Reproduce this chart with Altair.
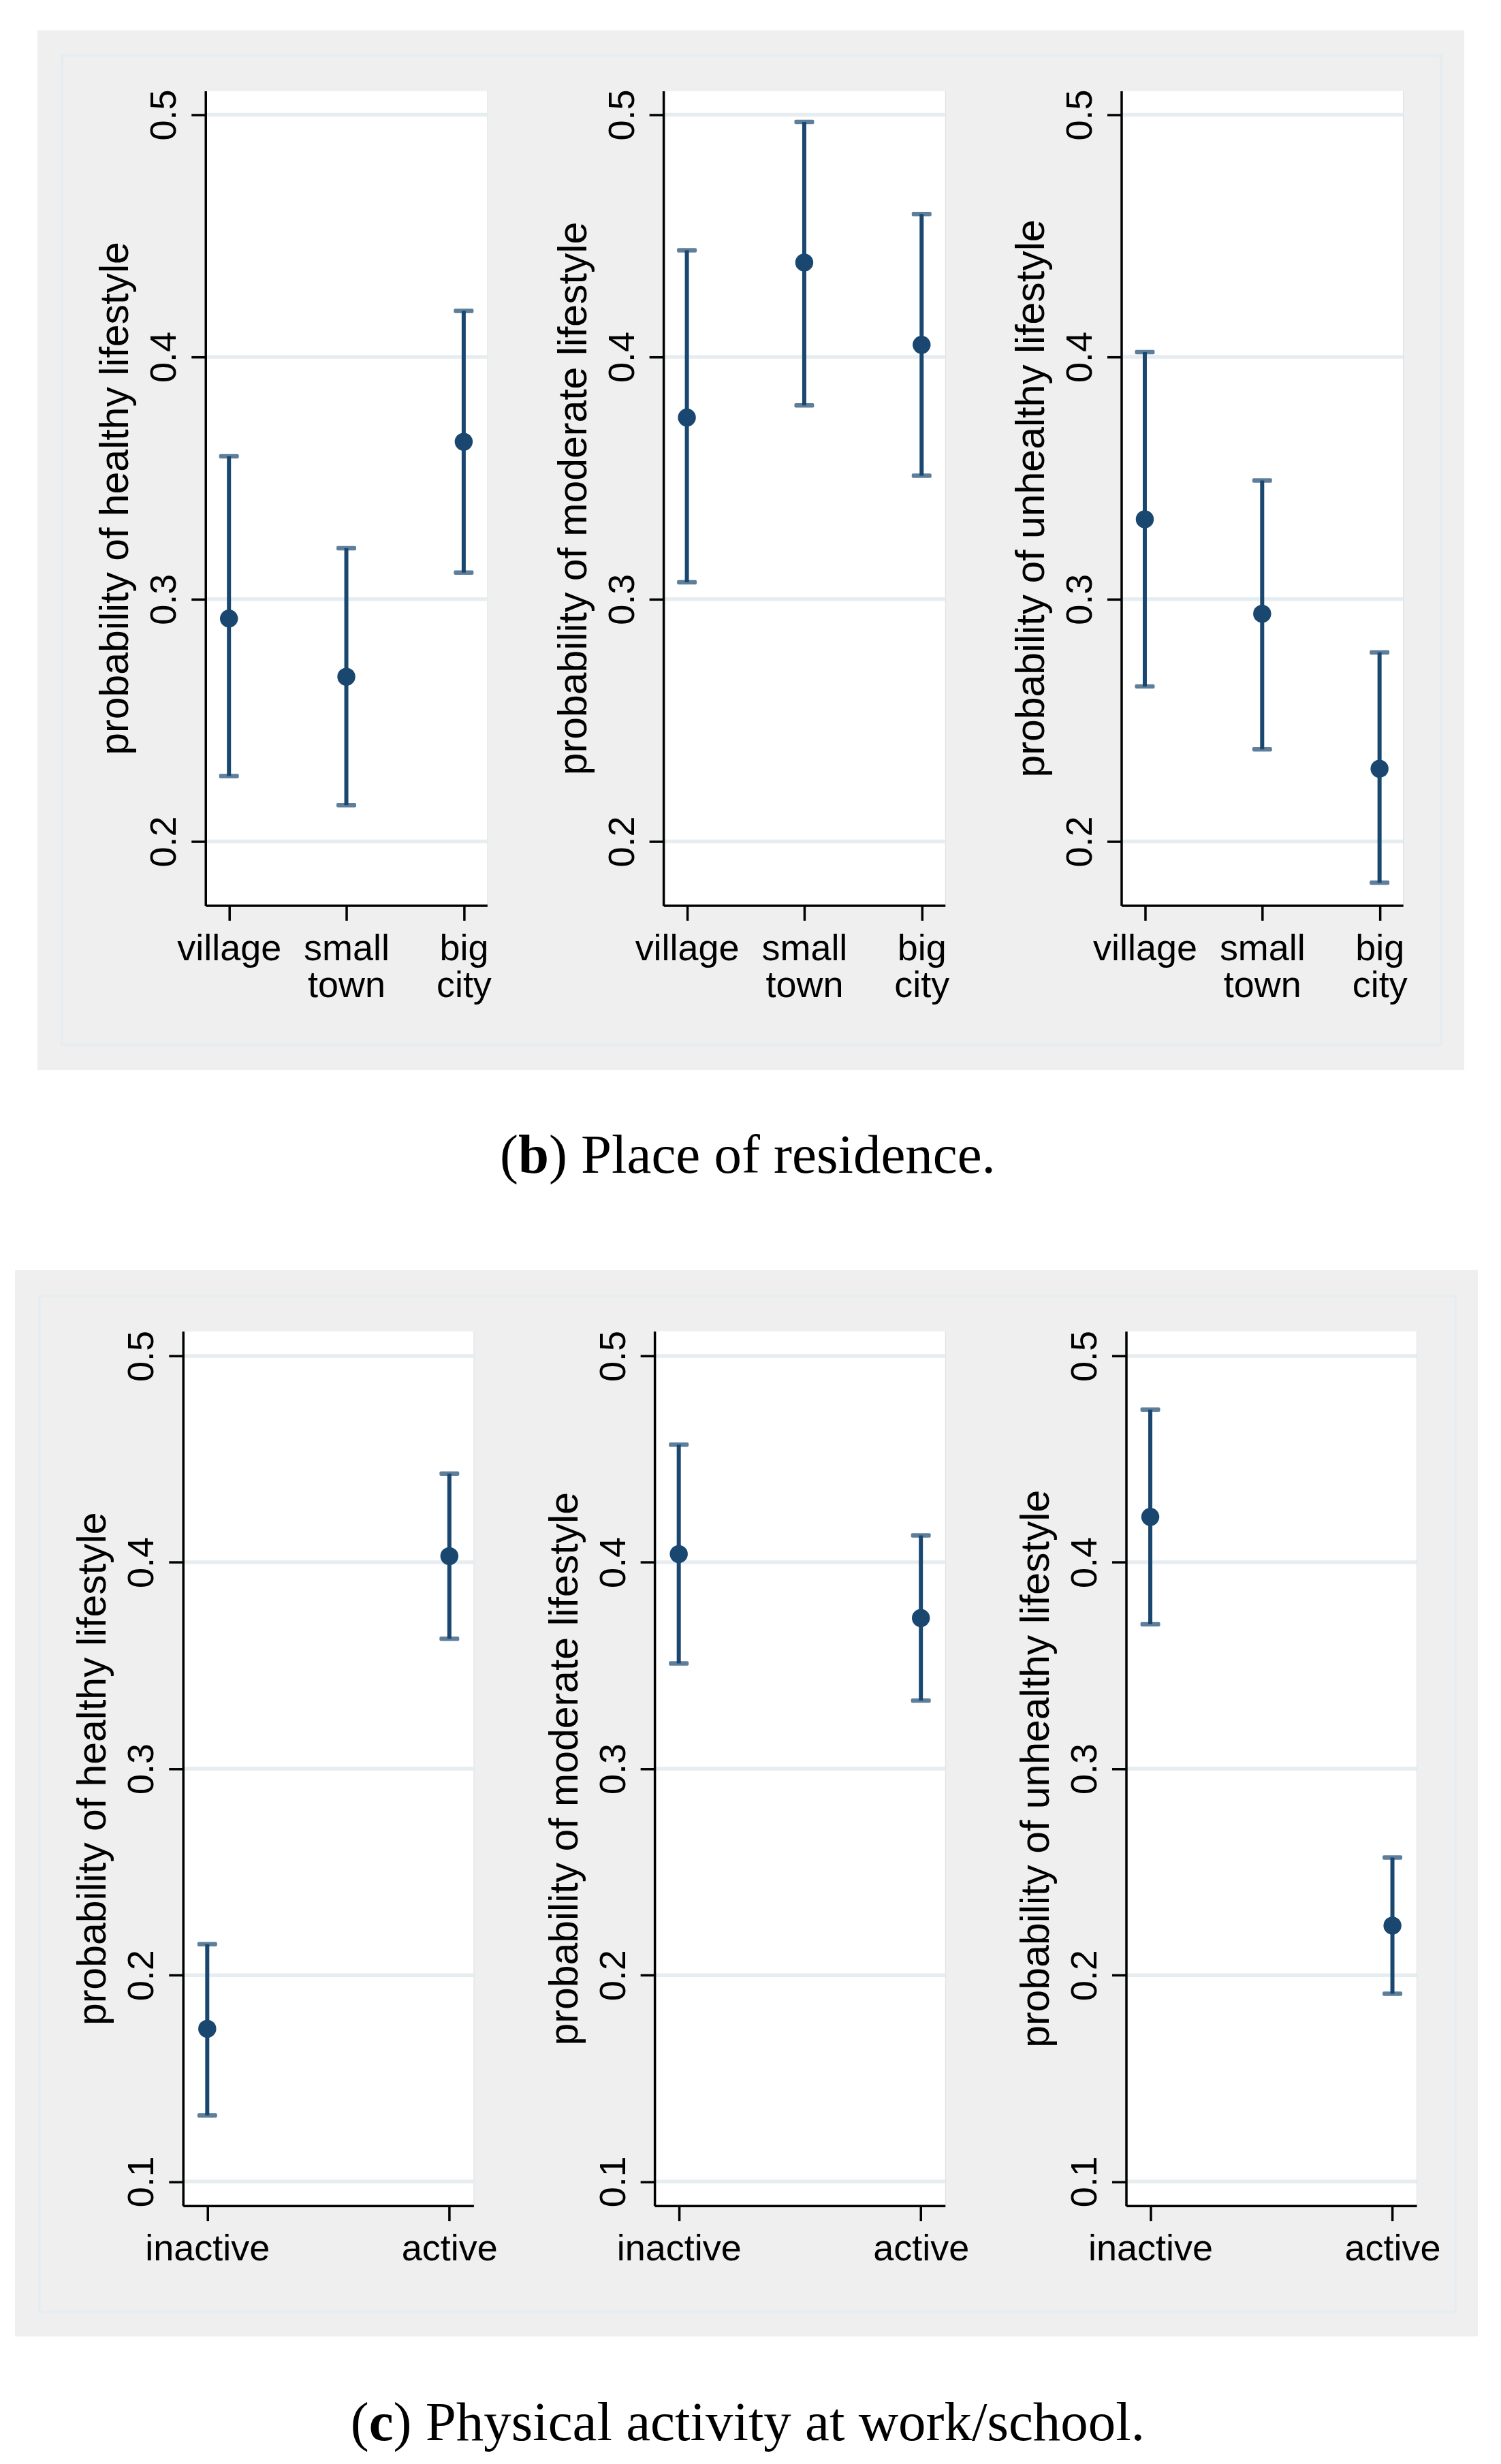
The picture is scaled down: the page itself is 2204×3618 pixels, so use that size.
import altair as alt
import pandas as pd

# ---------------- data ----------------
res_cats = ["village", "small town", "big city"]
healthy_b = [0.292, 0.268, 0.365]
healthy_b_lo = [0.227, 0.215, 0.311]
healthy_b_hi = [0.359, 0.321, 0.419]
moderate_b = [0.375, 0.439, 0.405]
moderate_b_lo = [0.307, 0.380, 0.351]
moderate_b_hi = [0.444, 0.497, 0.459]
unhealthy_b = [0.333, 0.294, 0.230]
unhealthy_b_lo = [0.264, 0.238, 0.183]
unhealthy_b_hi = [0.402, 0.349, 0.278]

act_cats = ["inactive", "active"]
healthy_c = [0.174, 0.403]
healthy_c_lo = [0.132, 0.363]
healthy_c_hi = [0.215, 0.443]
moderate_c = [0.404, 0.373]
moderate_c_lo = [0.351, 0.333]
moderate_c_hi = [0.457, 0.413]
unhealthy_c = [0.422, 0.224]
unhealthy_c_lo = [0.370, 0.191]
unhealthy_c_hi = [0.474, 0.257]

y_titles = ["probability of healthy lifestyle",
            "probability of moderate lifestyle",
            "probability of unhealthy lifestyle"]
ticks_b = [0.2, 0.3, 0.4, 0.5]
ticks_c = [0.1, 0.2, 0.3, 0.4, 0.5]
caption_b = ["(", "b", ") Place of residence."]
caption_c = ["(", "c", ") Physical activity at work/school."]

# ---------------- style ----------------
NAVY = "#1a476f"
GRID = "#e6edf0"
BG = "#efefef"
FRAME = "#e6edf0"
SANS = "Liberation Sans"
SERIF = "Liberation Serif"
CAP_FS = 81
LAB_FS = 54
TITLE_FS = 59
ORIGIN_X = 8          # reference x of the section origin (page margin)


def rect(x0, x1, y0, y1, **kw):
    return alt.Chart(alt.Data(values=[{}])).mark_rect(**kw).encode(
        x=alt.value(x0), x2=alt.value(x1), y=alt.value(y0), y2=alt.value(y1))


def text(s, x, y, **kw):
    return alt.Chart(alt.Data(values=[{}])).mark_text(
        text=s, align="left", baseline="alphabetic", font=SERIF,
        fontSize=CAP_FS, color="black", **kw).encode(x=alt.value(x), y=alt.value(y))


def spacer(H, oy, gray, frame, cap, cap_center, cap_base, bottom):
    """Section backdrop; origin of this unit sits at reference x=ORIGIN_X, y=oy."""
    ox = ORIGIN_X
    layers = [
        rect(8 - ox, 2196 - ox, bottom[0] - oy, bottom[1] - oy,
             fill="white", strokeWidth=0),
        rect(gray[0] - ox, gray[1] - ox, gray[2] - oy, gray[3] - oy,
             fill=BG, strokeWidth=0),
        rect(frame[0] - ox, frame[1] - ox, frame[2] - oy, frame[3] - oy,
             fillOpacity=0, stroke=FRAME, strokeWidth=4),
    ]
    # caption widths estimated with Times metrics (em units)
    w_open = 0.333 * CAP_FS
    w_bold = (0.556 if cap[1] == "b" else 0.444) * CAP_FS
    total = {"b": 8.997, "c": 14.415}[cap[1]] * CAP_FS
    x0 = cap_center - total / 2 - ox
    y0 = cap_base - oy
    layers += [
        text(cap[0], x0, y0),
        text(cap[1], x0 + w_open, y0, fontWeight="bold"),
        text(cap[2], x0 + w_open + w_bold, y0),
    ]
    return alt.layer(*layers).properties(width=1, height=H)


def panel(cats, est, lo, hi, title, ticks, ydom, W, H, pad):
    df = pd.DataFrame({"cat": cats, "est": est, "lo": lo, "hi": hi})
    xs = alt.Scale(type="point", domain=cats, padding=pad)
    ys = alt.Scale(domain=ydom, nice=False, zero=False)
    xax = alt.Axis(title=None, labelAngle=0,
                   labelExpr="split(datum.label, ' ')",
                   labelBaseline="top", labelAlign="center", labelLimit=1000,
                   labelPadding=15, labelLineHeight=54, labelFontSize=LAB_FS,
                   labelFont=SANS, labelColor="black",
                   tickSize=22, tickWidth=3.5, tickColor="black",
                   domainWidth=3.5, domainColor="black",
                   grid=False, zindex=1)
    yax = alt.Axis(title=title, values=ticks, format=".1f",
                   labelAngle=270, labelAlign="center", labelBaseline="bottom",
                   labelPadding=12, labelFontSize=LAB_FS, labelFont=SANS,
                   labelColor="black", labelLimit=1000,
                   tickSize=21, tickWidth=3.5, tickColor="black",
                   domainWidth=3.5, domainColor="black",
                   titleFont=SANS, titleFontSize=TITLE_FS, titleFontWeight="normal",
                   titleColor="black", titleX=-132, titleY=H / 2, titleLimit=2000,
                   titleAngle=270, titleAlign="center", titleBaseline="middle",
                   grid=False, zindex=1)
    X = alt.X("cat:N", scale=xs, axis=xax, sort=cats)
    base = alt.Chart(df)
    white = rect(0, W, 0, H, fill="white", strokeWidth=0)
    grid = alt.Chart(pd.DataFrame({"v": ticks})).mark_rule(
        color=GRID, strokeWidth=5.5).encode(y=alt.Y("v:Q", scale=ys, axis=yax))
    bars = base.mark_rule(color=NAVY, strokeWidth=6).encode(
        x=X, y=alt.Y("lo:Q", scale=ys, axis=yax), y2="hi:Q")
    cap_lo = base.mark_tick(color=NAVY, thickness=6.5, size=29,
                            orient="horizontal", cornerRadius=2).encode(
        x=X, y=alt.Y("lo:Q", scale=ys, axis=yax))
    cap_hi = base.mark_tick(color=NAVY, thickness=6.5, size=29,
                            orient="horizontal", cornerRadius=2).encode(
        x=X, y=alt.Y("hi:Q", scale=ys, axis=yax))
    pts = base.mark_circle(color=NAVY, size=700, opacity=1).encode(
        x=X, y=alt.Y("est:Q", scale=ys, axis=yax))
    return alt.layer(white, grid, bars, cap_lo, cap_hi, pts).properties(width=W, height=H)


# ---------------- section (b) ----------------
WB, HB, PADB, TOPB, AXB = 414, 1197, 0.2, 131, 301
SPB = 673 - WB                     # gap between panels
YDOM_B = [0.1736, 0.5098]
panels_b = alt.hconcat(
    panel(res_cats, healthy_b, healthy_b_lo, healthy_b_hi, y_titles[0],
          ticks_b, YDOM_B, WB, HB, PADB),
    panel(res_cats, moderate_b, moderate_b_lo, moderate_b_hi, y_titles[1],
          ticks_b, YDOM_B, WB, HB, PADB),
    panel(res_cats, unhealthy_b, unhealthy_b_lo, unhealthy_b_hi, y_titles[2],
          ticks_b, YDOM_B, WB, HB, PADB),
    spacing=SPB, bounds="flush")
sec_b = alt.hconcat(
    spacer(HB, TOPB, gray=(54, 2151, 42, 1570), frame=(90, 2117, 79, 1533),
           cap=caption_b, cap_center=1098, cap_base=1721, bottom=(8, 1790)),
    panels_b, spacing=AXB - ORIGIN_X - 1, bounds="flush")

# ---------------- section (c) ----------------
WC, HC, PADC, TOPC, AXC = 427, 1285, 0.1, 1952, 268
SPC = 693 - WC
YDOM_C = [0.0883, 0.5119]
panels_c = alt.hconcat(
    panel(act_cats, healthy_c, healthy_c_lo, healthy_c_hi, y_titles[0],
          ticks_c, YDOM_C, WC, HC, PADC),
    panel(act_cats, moderate_c, moderate_c_lo, moderate_c_hi, y_titles[1],
          ticks_c, YDOM_C, WC, HC, PADC),
    panel(act_cats, unhealthy_c, unhealthy_c_lo, unhealthy_c_hi, y_titles[2],
          ticks_c, YDOM_C, WC, HC, PADC),
    spacing=SPC, bounds="flush")
sec_c = alt.hconcat(
    spacer(HC, TOPC, gray=(21, 2171, 1862, 3429), frame=(57, 2138, 1900, 3393),
           cap=caption_c, cap_center=1098, cap_base=3582, bottom=(1790, 3610)),
    panels_c, spacing=AXC - ORIGIN_X - 1, bounds="flush")

chart = alt.vconcat(sec_b, sec_c, spacing=0).properties(
    padding=0, background="white"
).configure_view(strokeWidth=0, stroke="transparent").configure(font=SANS)

chart.save("out.html", embed_options={"renderer": "svg", "actions": False})
